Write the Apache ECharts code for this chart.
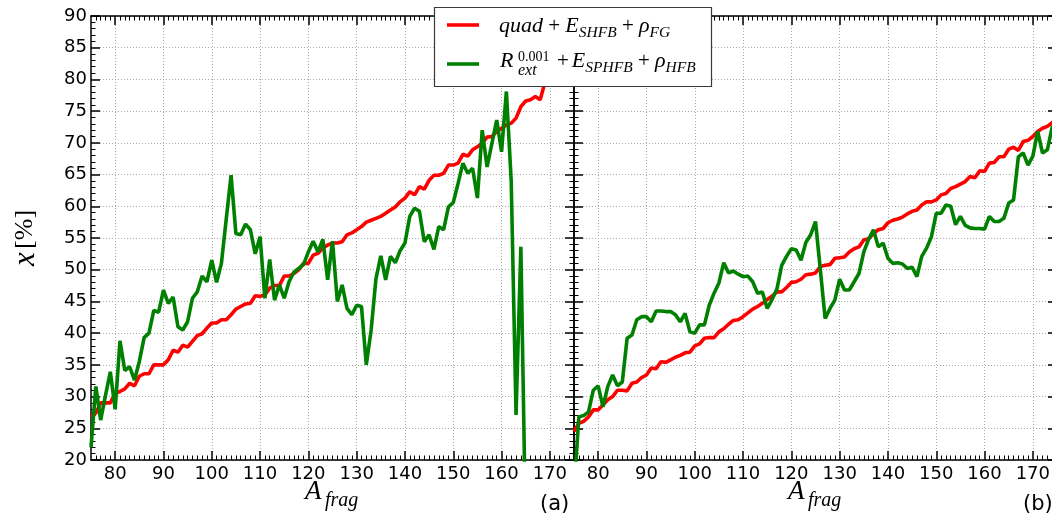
<!DOCTYPE html>
<html>
<head>
<meta charset="utf-8">
<script src="https://cdn.jsdelivr.net/npm/echarts@6/dist/echarts.min.js"></script>
<style>
  html, body { margin: 0; padding: 0; background: #ffffff; }
  #chart { width: 1052px; height: 518px; }
</style>
</head>
<body>
<div id="chart"></div>
<script>
// Fragment mass numbers A_frag
const massA = [75,76,77,78,79,80,81,82,83,84,85,86,87,88,89,90,91,92,93,94,
  95,96,97,98,99,100,101,102,103,104,105,106,107,108,109,110,111,112,113,114,
  115,116,117,118,119,120,121,122,123,124,125,126,127,128,129,130,131,132,133,134,
  135,136,137,138,139,140,141,142,143,144,145,146,147,148,149,150,151,152,153,154,
  155,156,157,158,159,160,161,162,163,164,165,166,167,168,169,170,171,172,173,174,175];

// Panel (a): quad + E_SHFB + rho_FG   (A = 75 .. 170)
const quadA = [26.8,27.4,29.0,29.0,29.0,30.5,30.8,31.2,32.1,31.7,
  33.2,33.6,33.6,35.0,35.0,35.0,35.8,37.3,37.0,38.1,
  37.8,38.7,39.6,39.9,40.8,41.6,41.6,42.1,42.1,42.9,
  43.8,44.2,44.6,44.7,45.9,45.8,46.0,47.1,47.5,47.5,
  49.0,49.0,49.4,50.0,51.0,51.0,52.3,52.6,53.4,53.9,
  54.2,54.2,54.4,55.5,55.8,56.3,56.8,57.5,57.8,58.1,
  58.4,58.9,59.4,59.9,60.7,61.3,62.3,61.8,63.1,62.7,
  64.1,64.9,64.9,65.2,66.5,66.5,66.8,68.2,67.9,68.9,
  69.4,69.9,70.9,71.0,71.8,72.3,72.8,73.1,73.9,75.7,
  76.6,76.8,77.3,76.8,79.6,83.0];

// Panel (a): R_ext^0.001 + E_SPHFB + rho_HFB   (A = 75 .. 165)
const rextA = [22.0,31.6,26.3,30.2,33.9,28.0,38.8,34.1,34.7,32.6,
  35.5,39.3,40.0,43.6,43.3,46.8,44.7,45.7,41.0,40.5,
  41.8,45.5,46.5,49.0,48.1,51.5,48.0,51.0,58.0,64.9,
  55.7,55.5,57.2,56.3,52.5,55.2,45.5,51.6,45.2,47.6,
  45.5,48.1,49.6,50.2,50.8,52.8,54.5,52.8,54.8,48.4,
  54.5,45.0,47.6,43.9,42.9,44.4,44.2,35.0,40.5,48.6,
  52.2,48.4,52.1,51.1,53.0,54.2,58.4,59.7,59.2,54.4,
  55.5,53.2,56.8,56.3,59.9,60.6,63.6,66.8,65.2,66.0,
  61.3,72.0,66.2,69.9,73.6,68.6,78.1,64.0,27.1,53.6,
  8.0];

// Panel (b): quad + E_SHFB + rho_FG   (A = 75 .. 175)
const quadB = [24.5,25.8,26.1,26.8,27.9,27.9,28.7,29.5,30.0,31.0,
  31.0,30.9,32.1,32.3,33.0,33.4,34.5,34.4,35.5,35.4,
  35.8,36.2,36.5,36.9,37.0,38.0,38.3,39.2,39.3,39.3,
  40.2,40.7,41.4,42.0,42.1,42.6,43.2,43.8,44.2,44.7,
  45.3,45.8,46.5,46.5,47.2,48.0,48.1,48.5,49.2,49.3,
  49.5,50.5,50.7,50.8,51.8,51.9,52.0,52.8,53.3,53.6,
  54.7,54.9,55.7,56.3,56.5,57.4,57.8,58.0,58.3,58.8,
  59.2,59.4,60.2,60.7,60.7,61.0,61.8,62.0,62.8,63.1,
  63.5,63.9,64.7,64.5,65.6,65.5,66.8,66.9,67.8,67.8,
  69.0,69.3,68.8,70.2,70.4,71.0,71.8,72.3,72.6,73.2,
  73.6];

// Panel (b): R_ext^0.001 + E_SPHFB + rho_HFB   (A = 75 .. 175)
const rextB = [15.0,26.8,27.0,27.6,31.0,31.7,28.4,31.6,33.4,31.7,
  32.3,39.2,39.7,42.1,42.6,42.6,41.8,43.5,43.5,43.4,
  43.4,42.9,41.8,43.1,40.2,40.0,41.3,41.3,44.4,46.3,
  47.9,51.1,49.5,49.8,49.3,48.9,49.0,48.1,46.3,46.5,
  43.9,45.3,46.9,50.7,52.1,53.3,53.1,51.5,54.3,55.5,
  57.6,50.0,42.3,43.9,45.2,48.5,46.8,46.8,48.1,49.4,
  52.8,54.8,56.3,53.6,54.2,51.8,51.0,51.1,50.9,50.2,
  50.4,48.9,52.1,53.4,55.2,58.9,58.9,60.2,60.0,57.1,
  58.4,57.0,56.6,56.5,56.5,56.4,58.4,57.6,57.6,58.1,
  60.5,61.0,67.8,68.4,66.5,67.9,71.8,68.4,68.9,72.5,
  73.0];

// Axis ticks
const xTicks = [80, 90, 100, 110, 120, 130, 140, 150, 160, 170];
const xRange = [75, 175];
const yRange = [20, 90];
const yStep = 5;

const RED = '#ff0000';
const GREEN = '#008000';
const INK = '#000000';
const SERIF = 'Liberation Serif';
const SANS = 'DejaVu Sans';

const chart = echarts.init(document.getElementById('chart'), null, { renderer: 'canvas' });

function pairs(values) {
  return values.map((v, i) => [massA[i], v]);
}

function xAxisFor(grid, pos, withLabels) {
  return {
    gridIndex: grid, type: 'value', position: pos,
    min: xRange[0], max: xRange[1], splitNumber: 10,
    axisLine: { show: true, onZero: false, lineStyle: { color: INK, width: 1.5 } },
    axisTick: { show: true, inside: true, length: 9, customValues: xTicks,
      lineStyle: { color: INK, width: 1.5 } },
    minorTick: { show: true, splitNumber: 10, length: 4.5, lineStyle: { color: INK, width: 1 } },
    axisLabel: { show: withLabels, customValues: xTicks, margin: 5,
      fontFamily: SANS, fontSize: 18, color: INK },
    splitLine: { show: withLabels, lineStyle: { color: '#ababab', width: 1, type: [1, 2] } },
    minorSplitLine: { show: false }
  };
}

function yAxisFor(grid, pos, withLabels, withName) {
  return {
    gridIndex: grid, type: 'value', position: pos,
    min: yRange[0], max: yRange[1], interval: yStep,
    axisLine: { show: true, onZero: false, lineStyle: { color: INK, width: 1.5 } },
    axisTick: { show: true, inside: true, length: 9, lineStyle: { color: INK, width: 1.5 } },
    minorTick: { show: true, splitNumber: 5, length: 4.5, lineStyle: { color: INK, width: 1 } },
    axisLabel: { show: withLabels, margin: 4, fontFamily: SANS, fontSize: 18, color: INK },
    splitLine: { show: pos === 'left', lineStyle: { color: '#ababab', width: 1, type: [1, 2] } },
    name: withName ? '{i|x} {u|[%]}' : '',
    nameLocation: 'middle', nameRotate: 90, nameGap: 50,
    nameTextStyle: {
      rich: {
        i: { fontFamily: SERIF, fontStyle: 'italic', fontSize: 31, color: INK },
        u: { fontFamily: SERIF, fontSize: 26, color: INK }
      }
    }
  };
}

function lineSeries(name, values, color, axisIdx) {
  return {
    name: name, type: 'line', data: pairs(values),
    xAxisIndex: axisIdx, yAxisIndex: axisIdx,
    showSymbol: false, symbol: 'none', clip: true,
    lineStyle: { color: color, width: 3.6 },
    itemStyle: { color: color },
    emphasis: { disabled: true },
    animation: false
  };
}

// Math-style text pieces (legend entries, axis titles)
function t(x, y, text, size, italic) {
  return {
    type: 'text', x: x, y: y, z: 101,
    style: { text: text, fill: INK, fontFamily: SERIF, fontSize: size,
      fontStyle: italic ? 'italic' : 'normal', verticalAlign: 'middle', align: 'left' }
  };
}

// Rich-text formula line: main symbols, operators and lowered subscripts
const mathRich = {
  m: { fontFamily: SERIF, fontStyle: 'italic', fontSize: 22, lineHeight: 30, fill: INK },
  e: { fontFamily: SERIF, fontStyle: 'italic', fontSize: 22, lineHeight: 30, fill: INK, padding: [0, 0, 0, 3] },
  o: { fontFamily: SERIF, fontSize: 21, lineHeight: 30, fill: INK },
  s: { fontFamily: SERIF, fontStyle: 'italic', fontSize: 15.5, lineHeight: 16, fill: INK, padding: [14, 0, 0, 0] }
};

function formula(x, y, text) {
  return {
    type: 'text', x: x, y: y, z: 101,
    style: { text: text, rich: mathRich, fill: INK, verticalAlign: 'middle', align: 'left' }
  };
}

// A_frag title under each panel (panel width 483 px)
function massTitle(left) {
  return [t(left + 214, 492, 'A', 27, true), t(left + 234, 501, 'frag', 20, true)];
}

const legendGraphics = [
  { type: 'rect', z: 100, shape: { x: 434.5, y: 7.5, width: 277, height: 79 },
    style: { fill: '#ffffff', stroke: '#3a3a3a', lineWidth: 1.2 } },
  { type: 'line', z: 101, shape: { x1: 447, y1: 25, x2: 479, y2: 25 },
    style: { stroke: RED, lineWidth: 3.6 } },
  { type: 'line', z: 101, shape: { x1: 447, y1: 64, x2: 479, y2: 64 },
    style: { stroke: GREEN, lineWidth: 3.6 } },
  // quad + E_SHFB + rho_FG
  formula(499, 26, '{m|quad}{o| + }{m|E}{s|SHFB}{o| + }{m|\u03c1}{s|FG}'),
  // R_ext^0.001 + E_SPHFB + rho_HFB
  t(500, 61, 'R', 22, true),
  t(518, 57, '0.001', 14, false),
  t(518, 71, 'ext', 16, true),
  formula(557, 61, '{o|+}{e|E}{s|SPHFB}{o| + }{m|\u03c1}{s|HFB}'),
  // panel tags
  { type: 'text', x: 540, y: 505, z: 101,
    style: { text: '(a)', fill: INK, fontFamily: SANS, fontSize: 21, verticalAlign: 'middle' } },
  { type: 'text', x: 1023, y: 505, z: 101,
    style: { text: '(b)', fill: INK, fontFamily: SANS, fontSize: 21, verticalAlign: 'middle' } }
].concat(massTitle(91), massTitle(574));

const option = {
  animation: false,
  backgroundColor: '#ffffff',
  grid: [
    { left: 91, top: 16, width: 483, height: 444, containLabel: false, outerBoundsMode: 'none' },
    { left: 574, top: 16, width: 483, height: 444, containLabel: false, outerBoundsMode: 'none' }
  ],
  xAxis: [
    xAxisFor(0, 'bottom', true),
    xAxisFor(0, 'top', false),
    xAxisFor(1, 'bottom', true),
    xAxisFor(1, 'top', false)
  ],
  yAxis: [
    yAxisFor(0, 'left', true, true),
    yAxisFor(0, 'right', false, false),
    yAxisFor(1, 'left', false, false),
    yAxisFor(1, 'right', false, false)
  ],
  series: [
    lineSeries('quad (a)', quadA, RED, 0),
    lineSeries('Rext (a)', rextA, GREEN, 0),
    lineSeries('quad (b)', quadB, RED, 2),
    lineSeries('Rext (b)', rextB, GREEN, 2)
  ],
  graphic: legendGraphics
};

chart.setOption(option);
</script>
</body>
</html>
